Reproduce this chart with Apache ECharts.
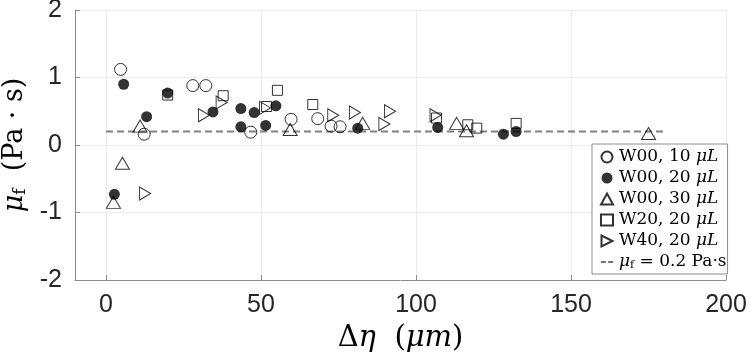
<!DOCTYPE html>
<html>
<head>
<meta charset="utf-8">
<script src="https://cdn.jsdelivr.net/npm/echarts@6/dist/echarts.min.js"></script>
<style>
  html, body { margin: 0; padding: 0; background: #fff; }
  #chart { width: 750px; height: 363px; }
</style>
</head>
<body>
<div id="chart"></div>
<script>
// tick labels
const xTicks = [0, 50, 100, 150, 200]
const yTicks = [-2, -1, 0, 1, 2]

// [Δη (μm), μf (Pa·s)]
const w00_10 = [[4.7, 1.12], [28.0, 0.88], [32.2, 0.88], [12.3, 0.16], [46.7, 0.19],
  [59.7, 0.38], [68.3, 0.39], [72.6, 0.28], [75.5, 0.27]]
const w00_20 = [[5.7, 0.90], [2.7, -0.73], [13.1, 0.42], [19.9, 0.77], [34.5, 0.49],
  [43.5, 0.54], [43.5, 0.27], [47.8, 0.48], [51.5, 0.29], [54.8, 0.58],
  [81.2, 0.25], [107.0, 0.26], [128.2, 0.16], [132.3, 0.20]]
const w00_30 = [[2.4, -0.85], [5.3, -0.27], [11.0, 0.28], [59.4, 0.23], [82.8, 0.32],
  [113.1, 0.32], [116.3, 0.21], [175.0, 0.17]]
const w20_20 = [[19.9, 0.74], [37.8, 0.73], [51.8, 0.57], [55.3, 0.81], [66.7, 0.60],
  [106.6, 0.40], [116.7, 0.30], [119.6, 0.25], [132.3, 0.32]]
const w40_20 = [[12.6, -0.72], [31.6, 0.44], [37.3, 0.63], [51.3, 0.55], [73.3, 0.44],
  [80.3, 0.48], [89.8, 0.31], [91.6, 0.50], [106.3, 0.44]]
// fitted constant μf = 0.2 Pa·s, drawn from 0 to 180 μm
const fitLine = [[0, 0.2], [180, 0.2]]

const serif = 'DejaVu Serif'
const sans = 'Liberation Sans'
const ink = '#000'

const rightTri = 'path://M0,0 L10,5 L0,10 Z'
const dashIcon = 'path://M0,4 L6,4 L6,6 L0,6 Z M9,4 L15,4 L15,6 L9,6 Z'

const legendText = {
  'W00, 10 μL': 'W00, 10 {i|μL}',
  'W00, 20 μL': 'W00, 20 {i|μL}',
  'W00, 30 μL': 'W00, 30 {i|μL}',
  'W20, 20 μL': 'W20, 20 {i|μL}',
  'W40, 20 μL': 'W40, 20 {i|μL}',
  'fit': '{i|μ}{s|f} = 0.2 Pa·s',
}

const openStyle = { color: 'rgba(0,0,0,0)', borderColor: ink, borderWidth: 1 }

const chart = echarts.init(document.getElementById('chart'))
chart.setOption({
  animation: false,
  grid: { left: 75, right: 24, top: 10, bottom: 83, outerBoundsMode: 'none', containLabel: false },
  xAxis: {
    type: 'value', min: -10, max: 200,
    name: 'Δ{i|η}  ({i|μm})',
    nameLocation: 'middle', nameGap: 44,
    nameTextStyle: {
      fontFamily: serif, fontSize: 29, color: ink,
      rich: { i: { fontFamily: serif, fontSize: 29, fontStyle: 'italic', color: ink } },
    },
    axisLine: { show: true, onZero: false, lineStyle: { color: '#8c8c8c', width: 1 } },
    axisTick: { show: true, inside: true, length: 5, customValues: xTicks, lineStyle: { color: '#8c8c8c' } },
    axisLabel: { customValues: xTicks, fontFamily: sans, fontSize: 25, color: '#262626', margin: 13 },
    splitLine: { show: true, lineStyle: { color: '#ececec', width: 1 } },
  },
  yAxis: {
    type: 'value', min: -2, max: 2, interval: 1,
    name: '{i|μ}{s|f}  (Pa · s)',
    nameLocation: 'middle', nameGap: 43, nameRotate: 90,
    nameTextStyle: {
      fontFamily: serif, fontSize: 27, color: ink,
      rich: {
        i: { fontFamily: serif, fontSize: 27, fontStyle: 'italic', color: ink },
        s: { fontFamily: serif, fontSize: 17, color: ink, padding: [10, 0, 0, 0] },
      },
    },
    axisLine: { show: true, onZero: false, lineStyle: { color: '#8c8c8c', width: 1 } },
    axisTick: { show: true, inside: true, length: 5, lineStyle: { color: '#8c8c8c' } },
    axisLabel: {
      fontFamily: sans, fontSize: 25, color: '#262626', margin: 13,
      formatter: v => (yTicks.includes(v) ? String(v) : ''),
    },
    splitLine: { show: true, lineStyle: { color: '#ececec', width: 1 } },
  },
  legend: {
    orient: 'vertical', left: 592, top: 144,
    padding: [4, 1, 3, 8], itemGap: 3, itemWidth: 12, itemHeight: 11,
    borderColor: '#8c8c8c', borderWidth: 1, backgroundColor: '#fff',
    data: [
      'W00, 10 μL', 'W00, 20 μL', 'W00, 30 μL', 'W20, 20 μL',
      { name: 'W40, 20 μL', icon: rightTri },
      { name: 'fit', icon: dashIcon, itemStyle: { color: '#404040', borderWidth: 0 } },
    ],
    formatter: name => legendText[name],
    textStyle: {
      fontFamily: serif, fontSize: 17, lineHeight: 18, color: ink, padding: [0, 0, 0, 1],
      rich: {
        i: { fontFamily: serif, fontSize: 17, lineHeight: 18, fontStyle: 'italic', color: ink },
        s: { fontFamily: serif, fontSize: 11, lineHeight: 18, color: ink, padding: [7, 0, 0, 0] },
      },
    },
  },
  series: [
    {
      name: 'W00, 10 μL', type: 'scatter', data: w00_10,
      symbol: 'circle', symbolSize: 12, itemStyle: openStyle,
    },
    {
      name: 'W00, 20 μL', type: 'scatter', data: w00_20,
      symbol: 'circle', symbolSize: 11, itemStyle: { color: ink },
    },
    {
      name: 'W00, 30 μL', type: 'scatter', data: w00_30,
      symbol: 'triangle', symbolSize: [14, 12], itemStyle: openStyle,
    },
    {
      name: 'W20, 20 μL', type: 'scatter', data: w20_20,
      symbol: 'rect', symbolSize: 10, itemStyle: openStyle,
    },
    {
      name: 'W40, 20 μL', type: 'scatter', data: w40_20,
      symbol: rightTri, symbolSize: [11, 13], itemStyle: openStyle,
    },
    {
      name: 'fit', type: 'line', data: fitLine, symbol: 'none', z: 1,
      lineStyle: { color: '#808080', width: 2, type: [7, 4] },
      itemStyle: { color: '#808080' },
    },
  ],
})
</script>
</body>
</html>
